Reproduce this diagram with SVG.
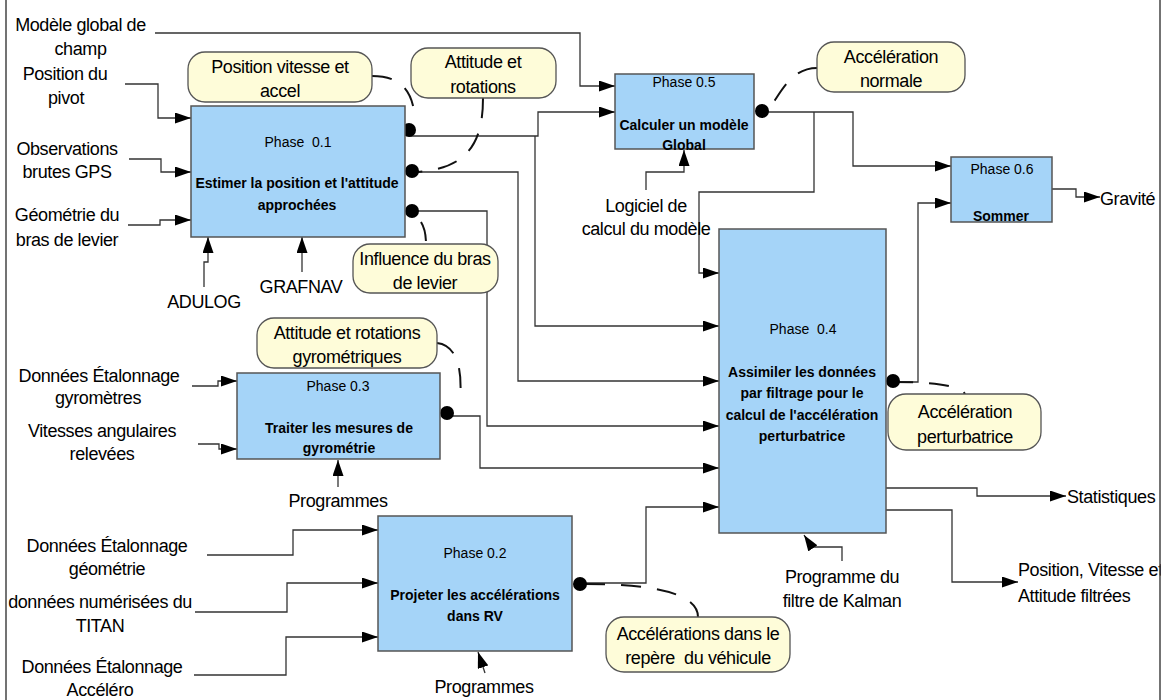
<svg xmlns="http://www.w3.org/2000/svg" width="1166" height="700" viewBox="0 0 1166 700">
<defs>
<marker id="a" markerWidth="16" markerHeight="11" refX="16" refY="5.5" orient="auto" markerUnits="userSpaceOnUse"><path d="M0,0 L16,5.5 L0,11 z" fill="#000"/></marker>
</defs>
<style>
.box{fill:#a5d4f8;stroke:#555;stroke-width:1.5}
.note{fill:#fefcd9;stroke:#555;stroke-width:1.3}
.c{fill:none;stroke:#333;stroke-width:1.3}
.ar{marker-end:url(#a)}
.d{fill:none;stroke:#111;stroke-width:2;stroke-dasharray:20 16}
.dot{fill:#000}
text{font-family:"Liberation Sans",Arial,sans-serif;fill:#000;white-space:pre}
.l{font-size:18px;letter-spacing:-0.4px}
.m{text-anchor:middle}
.ph{font-size:14px}
.b{font-size:14px;font-weight:bold}
.frame{stroke:#444;stroke-width:1.5}
</style>
<rect width="1166" height="700" fill="#fff"/>

<g id="connectors">
<path class="c ar" d="M155,33 H580 V86 H615"/>
<path class="c ar" d="M125,84 H158 V118 H191"/>
<path class="c ar" d="M129,159 H161 V172 H191"/>
<path class="c ar" d="M128,225 H160 V220 H191"/>
<path class="c ar" d="M204,287 V262 H208 V237"/>
<path class="c ar" d="M302,272 V237"/>
<path class="c ar" d="M409,136 H538 V112 H615"/>
<path class="c ar" d="M535,136 V326 H719"/>
<path class="c ar" d="M412,172 H518 V381 H719"/>
<path class="c ar" d="M412,211 H487 V426 H719"/>
<path class="c ar" d="M447,416 H480 V468 H719"/>
<path class="c ar" d="M192,386 H218 V381 H237"/>
<path class="c ar" d="M198,444 H219 V449 H237"/>
<path class="c ar" d="M338,487 V460"/>
<path class="c ar" d="M207,555 H293 V530 H378"/>
<path class="c ar" d="M195,612 H287 V583 H378"/>
<path class="c ar" d="M194,675 H286 V637 H378"/>
<path class="c ar" d="M485,673 L478,652"/>
<path class="c ar" d="M580,583 H646 V507 H719"/>
<path class="c ar" d="M842,561 V547 H812 L804,535"/>
<path class="c ar" d="M886,488 H977 V496 H1066"/>
<path class="c ar" d="M886,510 H952 V582 H1018"/>
<path class="c ar" d="M900,382 H918 V203 H951"/>
<path class="c ar" d="M762,112 H853 V166 H951"/>
<path class="c ar" d="M814,112 V192 H699 V273 H719"/>
<path class="c ar" d="M646,190 V172 H684 V150"/>
<path class="c ar" d="M1052,189 H1076 V197 H1100"/>
<path class="d" d="M372,76 C400,76 414,90 415,122"/>
<path class="d" d="M483,98 C483,140 470,168 418,172"/>
<path class="d" d="M817,68 C790,68 780,95 768,110"/>
<path class="d" d="M421,222 Q426,230 426,244"/>
<path class="d" d="M437,343 C455,345 463,365 460,400"/>
<path class="d" d="M893,382 C930,382 960,385 965,394"/>
<path class="d" d="M585,584 C640,584 698,590 698,617"/>
<circle class="dot" cx="409" cy="130" r="7"/>
<circle class="dot" cx="412" cy="171" r="7"/>
<circle class="dot" cx="412" cy="211" r="7"/>
<circle class="dot" cx="447" cy="413" r="7"/>
<circle class="dot" cx="580" cy="584" r="7"/>
<circle class="dot" cx="893" cy="381" r="7"/>
<circle class="dot" cx="762" cy="111" r="7"/>
</g>

<g id="phase01">
<rect class="box" x="191" y="106" width="214" height="131"/>
<text class="ph m" x="298" y="147">Phase  0.1</text>
<text class="b m" x="297" y="188">Estimer la position et l'attitude</text>
<text class="b m" x="297" y="210">approchées</text>
</g>
<g id="phase05">
<rect class="box" x="615" y="74" width="139" height="75"/>
<text class="ph m" x="684" y="87">Phase 0.5</text>
<text class="b m" x="684" y="130">Calculer un modèle</text>
<text class="b m" x="684" y="150">Global</text>
</g>
<g id="phase06">
<rect class="box" x="951" y="157" width="101" height="65"/>
<text class="ph m" x="1002" y="174">Phase 0.6</text>
<text class="b m" x="1001" y="221">Sommer</text>
</g>
<g id="phase04">
<rect class="box" x="719" y="229" width="167" height="304"/>
<text class="ph m" x="803" y="334">Phase  0.4</text>
<text class="b m" x="802" y="377">Assimiler les données</text>
<text class="b m" x="802" y="398">par filtrage pour le</text>
<text class="b m" x="802" y="420">calcul de l'accélération</text>
<text class="b m" x="802" y="441">perturbatrice</text>
</g>
<g id="phase03">
<rect class="box" x="237" y="373" width="203" height="86"/>
<text class="ph m" x="338" y="391">Phase 0.3</text>
<text class="b m" x="339" y="433">Traiter les mesures de</text>
<text class="b m" x="339" y="453">gyrométrie</text>
</g>
<g id="phase02">
<rect class="box" x="378" y="516" width="194" height="135"/>
<text class="ph m" x="475" y="558">Phase 0.2</text>
<text class="b m" x="475" y="600">Projeter les accélérations</text>
<text class="b m" x="475" y="621">dans RV</text>
</g>

<g id="note-pva">
<rect class="note" x="188" y="52" width="184" height="50" rx="17"/>
<text class="l m" x="280" y="73">Position vitesse et</text>
<text class="l m" x="280" y="97">accel</text>
</g>
<g id="note-att">
<rect class="note" x="411" y="48" width="145" height="50" rx="17"/>
<text class="l m" x="483" y="68">Attitude et</text>
<text class="l m" x="483" y="93">rotations</text>
</g>
<g id="note-accn">
<rect class="note" x="817" y="42" width="148" height="50" rx="17"/>
<text class="l m" x="891" y="63">Accélération</text>
<text class="l m" x="891" y="87">normale</text>
</g>
<g id="note-levier">
<rect class="note" x="353" y="244" width="145" height="49" rx="17"/>
<text class="l m" x="425" y="265">Influence du bras</text>
<text class="l m" x="425" y="289">de levier</text>
</g>
<g id="note-gyro">
<rect class="note" x="257" y="318" width="180" height="50" rx="17"/>
<text class="l m" x="347" y="339">Attitude et rotations</text>
<text class="l m" x="347" y="363">gyrométriques</text>
</g>
<g id="note-accp">
<rect class="note" x="888" y="394" width="153" height="56" rx="18"/>
<text class="l m" x="965" y="418">Accélération</text>
<text class="l m" x="965" y="443">perturbatrice</text>
</g>
<g id="note-accv">
<rect class="note" x="606" y="617" width="184" height="55" rx="18"/>
<text class="l m" x="698" y="640">Accélérations dans le</text>
<text class="l m" x="698" y="664">repère  du véhicule</text>
</g>

<g id="labels">
<text class="l m" x="80.5" y="31">Modèle global de</text>
<text class="l m" x="80.5" y="55">champ</text>
<text class="l m" x="65" y="80">Position du</text>
<text class="l m" x="66" y="104">pivot</text>
<text class="l m" x="67" y="155">Observations</text>
<text class="l m" x="67" y="178">brutes GPS</text>
<text class="l m" x="67" y="221">Géométrie du</text>
<text class="l m" x="67" y="246">bras de levier</text>
<text class="l m" x="204" y="308">ADULOG</text>
<text class="l m" x="301" y="293">GRAFNAV</text>
<text class="l m" x="99" y="382">Données Étalonnage</text>
<text class="l m" x="98" y="404">gyromètres</text>
<text class="l m" x="102" y="437">Vitesses angulaires</text>
<text class="l m" x="102" y="460">relevées</text>
<text class="l m" x="338" y="507">Programmes</text>
<text class="l m" x="107" y="552">Données Étalonnage</text>
<text class="l m" x="107" y="575">géométrie</text>
<text class="l m" x="100" y="608">données numérisées du</text>
<text class="l m" x="100" y="632">TITAN</text>
<text class="l m" x="102" y="673">Données Étalonnage</text>
<text class="l m" x="100" y="696">Accéléro</text>
<text class="l m" x="484" y="693">Programmes</text>
<text class="l m" x="646" y="212">Logiciel de</text>
<text class="l m" x="646" y="235">calcul du modèle</text>
<text class="l m" x="842" y="583">Programme du</text>
<text class="l m" x="842" y="607">filtre de Kalman</text>
<text class="l" x="1067" y="503">Statistiques</text>
<text class="l" x="1018" y="576">Position, Vitesse et</text>
<text class="l" x="1018" y="602">Attitude filtrées</text>
<text class="l" x="1100" y="205">Gravité</text>
</g>

<g id="frame">
<rect x="1161" y="0" width="5" height="700" fill="#fff"/>
<line class="frame" x1="6" y1="0" x2="6" y2="700"/>
<line class="frame" x1="1160" y1="0" x2="1160" y2="700"/>
</g>
</svg>
